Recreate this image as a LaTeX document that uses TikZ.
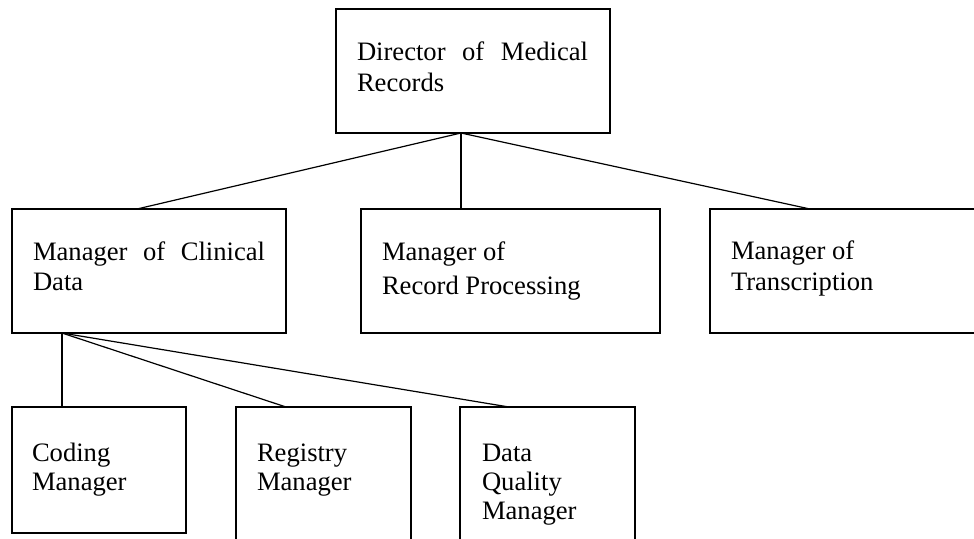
\documentclass[tikz,border=0pt]{standalone}
\usepackage{fontspec}
\setmainfont{Liberation Serif}
\begin{document}
\begin{tikzpicture}[x=1pt,y=-1pt,
  box/.style={draw,line width=1.2pt,inner sep=0pt,outer sep=0pt,anchor=north west},
  txt/.style={anchor=base west,inner sep=0pt,outer sep=0pt,font=\fontsize{26.6}{30}\selectfont},
  link/.style={line width=1.2pt}]
\useasboundingbox (0,0) rectangle (974,538);
\clip (0,0) rectangle (974,538);
% boxes
\node[box,minimum width=274pt,minimum height=124pt] (dir) at (336,9) {};
\node[box,minimum width=274pt,minimum height=124pt] (clin) at (12,209) {};
\node[box,minimum width=299pt,minimum height=124pt] (rec) at (361,209) {};
\node[box,minimum width=300pt,minimum height=124pt] (trans) at (710,209) {};
\node[box,minimum width=174pt,minimum height=126pt] (cod) at (12,407) {};
\node[box,minimum width=175pt,minimum height=160pt] (reg) at (236,407) {};
\node[box,minimum width=175pt,minimum height=160pt] (dq) at (460,407) {};
% texts
\node[txt] (dir1) at (357,60) {\makebox[231pt][s]{Director of Medical}};
\node[txt] (dir2) at (357,91) {Records};
\node[txt] (clin1) at (33,260) {\makebox[232pt][s]{Manager of Clinical}};
\node[txt] (clin2) at (33,290) {Data};
\node[txt] (rec1) at (382,260) {Manager of};
\node[txt] (rec2) at (382,294) {Record Processing};
\node[txt] (trans1) at (731,259) {Manager of};
\node[txt] (trans2) at (731,290) {Transcription};
\node[txt] (cod1) at (32,461) {Coding};
\node[txt] (cod2) at (32,490) {Manager};
\node[txt] (reg1) at (257,461) {Registry};
\node[txt] (reg2) at (257,490) {Manager};
\node[txt] (dq1) at (482,461) {Data};
\node[txt] (dq2) at (482,490) {Quality};
\node[txt] (dq3) at (482,519) {Manager};
% connectors
\coordinate (dirb) at ([xshift=125pt]dir.south west);
\coordinate (clinb) at ([xshift=50pt]clin.south west);
\draw[link] (dirb) -- ([xshift=125pt]clin.north west);
\draw[link] (dirb) -- ([xshift=100pt]rec.north west);
\draw[link] (dirb) -- ([xshift=100pt]trans.north west);
\draw[link] (clinb) -- ([xshift=50pt]cod.north west);
\draw[link] (clinb) -- ([xshift=50pt]reg.north west);
\draw[link] (clinb) -- ([xshift=49pt]dq.north west);
\end{tikzpicture}
\end{document}
